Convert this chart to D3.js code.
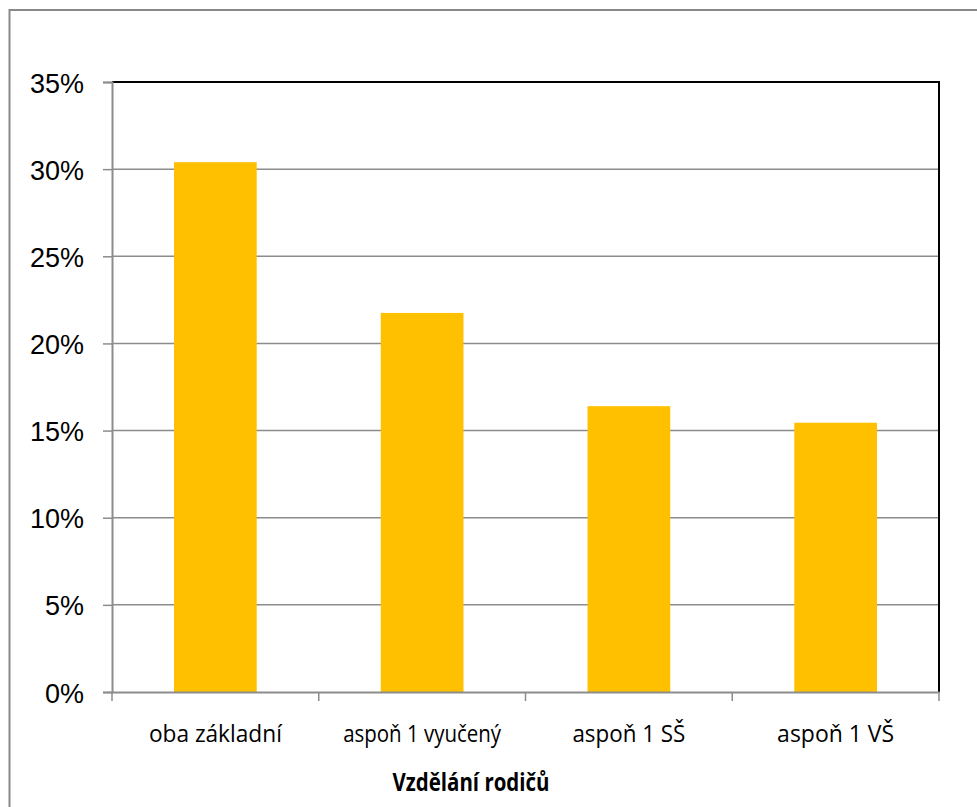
<!DOCTYPE html>
<html><head><meta charset="utf-8">
<script src="https://cdn.jsdelivr.net/npm/d3@7"></script>
<style>html,body{margin:0;padding:0;background:#fff;}svg{display:block;}</style>
</head><body>
<svg id="chart" width="977" height="807"></svg>
<script>
const categories = ["oba základní", "aspoň 1 vyučený", "aspoň 1 SŠ", "aspoň 1 VŠ"];
const values = [30.4, 21.75, 16.4, 15.45];
const yTicks = [0, 5, 10, 15, 20, 25, 30, 35];
const xTitle = "Vzdělání rodičů";

const svg = d3.select("#chart");
const L = 112, R = 939, T = 82, B = 692;

// outer frame
svg.append("rect").attr("x", 9.5).attr("y", 10).attr("width", 1000).attr("height", 900)
  .attr("fill", "#fff").attr("stroke", "#898989").attr("stroke-width", 2);

const x = d3.scaleBand().domain(categories).range([L, R]).paddingInner(0.6).paddingOuter(0.3);
const y = d3.scaleLinear().domain([0, 35]).range([B, T]);

// gridlines
svg.append("g").selectAll("line").data(yTicks.filter(d => d > 0 && d < 35)).join("line")
  .attr("x1", L).attr("x2", R).attr("y1", d => y(d)).attr("y2", d => y(d))
  .attr("stroke", "#8c8c8c").attr("stroke-width", 1.5);

// bars
svg.append("g").selectAll("rect").data(values).join("rect")
  .attr("x", (d, i) => x(categories[i])).attr("width", x.bandwidth())
  .attr("y", d => y(d)).attr("height", d => y(0) - y(d))
  .attr("fill", "#FFC000");

// plot border top/right (black)
svg.append("path").attr("d", `M${L},${y(35)}H${R}V${B}`).attr("fill", "none")
  .attr("stroke", "#000").attr("stroke-width", 2);

// y axis
const yAxis = svg.append("g").attr("transform", `translate(${L},0)`)
  .call(d3.axisLeft(y).tickValues(yTicks).tickFormat(d => d + "%").tickSize(9).tickPadding(19));
yAxis.select(".domain").attr("stroke", "#8c8c8c").attr("stroke-width", 2);
yAxis.selectAll(".tick line").attr("stroke", "#8c8c8c").attr("stroke-width", 1.5);
yAxis.selectAll(".tick text").attr("font-family", "Liberation Sans, Arial, sans-serif")
  .attr("font-size", 27).attr("fill", "#000").attr("dy", "0.37em");

// x axis
const xAxis = svg.append("g").attr("transform", `translate(0,${B})`)
  .call(d3.axisBottom(x).tickSize(0).tickPadding(0));
xAxis.select(".domain").attr("stroke", "#8c8c8c").attr("stroke-width", 2);
xAxis.selectAll(".tick text").attr("font-family", "Open Sans, Noto Sans, sans-serif")
  .attr("font-size", 24).attr("fill", "#000").attr("y", 50).attr("dy", 0);
// boundary ticks
const bounds = d3.range(categories.length + 1).map(i => x.range()[0] + i * (R - L) / categories.length);
xAxis.append("g").selectAll("line").data(bounds).join("line")
  .attr("x1", d => d).attr("x2", d => d).attr("y1", 0).attr("y2", 9)
  .attr("stroke", "#8c8c8c").attr("stroke-width", 1.5);

// fit category label widths (Calibri-like narrowness)
const targetW = {"oba základní": 133, "aspoň 1 vyučený": 158, "aspoň 1 SŠ": 113, "aspoň 1 VŠ": 117};
xAxis.selectAll(".tick text").each(function(d) {
  d3.select(this).attr("textLength", targetW[d]).attr("lengthAdjust", "spacingAndGlyphs");
});

// axis title
svg.append("text").attr("x", 471).attr("y", 791).attr("text-anchor", "middle")
  .attr("font-family", "Open Sans, Noto Sans, sans-serif").attr("font-weight", "bold")
  .attr("font-size", 25).attr("fill", "#000")
  .attr("textLength", 157).attr("lengthAdjust", "spacingAndGlyphs")
  .text(xTitle);
</script>
</body></html>
